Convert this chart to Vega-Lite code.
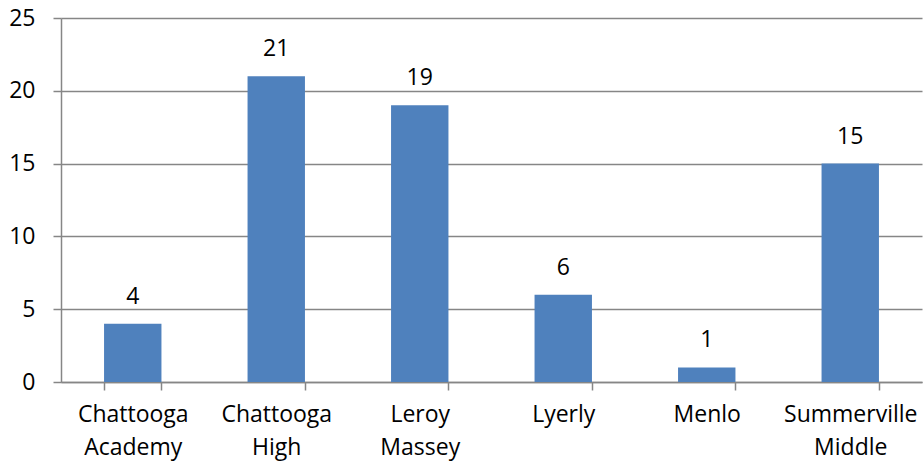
{
  "$schema": "https://vega.github.io/schema/vega-lite/v6.json",
  "width": 861,
  "height": 364,
  "autosize": "none",
  "padding": {"left": 61, "top": 18, "right": 2, "bottom": 86},
  "background": "white",
  "config": {
    "font": "Open Sans",
    "view": {"stroke": null},
    "axis": {"labelFont": "Open Sans", "labelColor": "#000000", "labelFontSize": 23}
  },
  "data": {
    "values": [
      {"school": "Chattooga Academy", "count": 4},
      {"school": "Chattooga High", "count": 21},
      {"school": "Leroy Massey", "count": 19},
      {"school": "Lyerly", "count": 6},
      {"school": "Menlo", "count": 1},
      {"school": "Summerville Middle", "count": 15}
    ]
  },
  "encoding": {
    "x": {
      "field": "school",
      "type": "nominal",
      "sort": null,
      "scale": {"paddingInner": 0.6, "paddingOuter": 0.3},
      "axis": {
        "title": null,
        "labelAngle": 0,
        "labelExpr": "split(datum.label, ' ')",
        "labelLineHeight": 33,
        "labelPadding": 13,
        "domainColor": "#868686",
        "domainWidth": 1.5,
        "tickColor": "#868686",
        "tickWidth": 1.5,
        "tickSize": 8,
        "tickBand": "extent",
        "grid": false
      }
    },
    "y": {
      "field": "count",
      "type": "quantitative",
      "scale": {"domain": [0, 25], "nice": false},
      "axis": {
        "title": null,
        "values": [0, 5, 10, 15, 20, 25],
        "grid": true,
        "gridColor": "#868686",
        "gridWidth": 1.5,
        "domainColor": "#868686",
        "domainWidth": 1.5,
        "tickColor": "#868686",
        "tickWidth": 1.5,
        "tickSize": 8,
        "labelPadding": 18
      }
    }
  },
  "layer": [
    {"mark": {"type": "bar", "color": "#4F81BD"}},
    {
      "mark": {"type": "text", "dy": -20, "baseline": "alphabetic", "fontSize": 23, "color": "#000000"},
      "encoding": {"text": {"field": "count", "type": "quantitative"}}
    }
  ]
}
